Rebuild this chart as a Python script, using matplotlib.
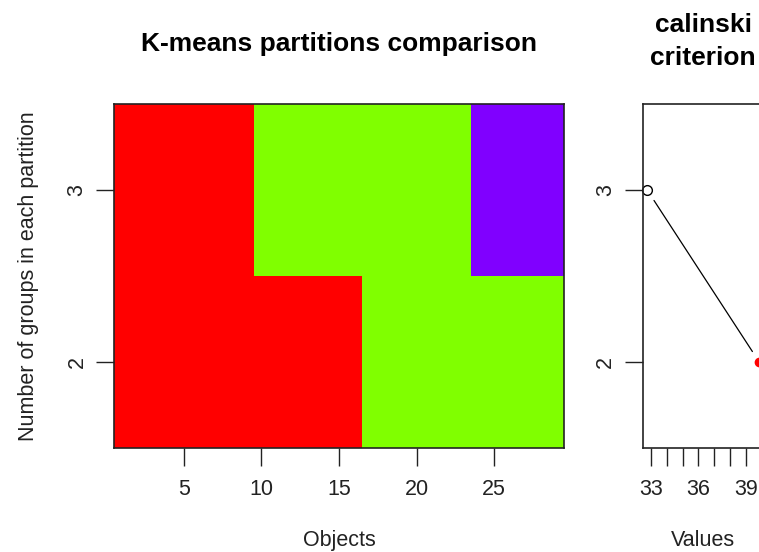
import matplotlib
matplotlib.use("Agg")
import matplotlib.pyplot as plt
from matplotlib.colors import ListedColormap
import numpy as np

plt.rcParams['font.family'] = ['Liberation Sans', 'DejaVu Sans']

# Data
objects = list(range(1, 30))
n_groups = [2, 3]
part_k2 = [1,1,1,1,1,1,1,1,1,1,1,1,1,1,1,1,2,2,2,2,2,2,2,2,2,2,2,2,2]
part_k3 = [1,1,1,1,1,1,1,1,1,2,2,2,2,2,2,2,2,2,2,2,2,2,2,3,3,3,3,3,3]
group_colors = ["#FF0000", "#80FF00", "#8000FF"]
calinski = [39.84, 32.77]   # for 2 and 3 groups
best_idx = 0
x_ticks_left = [5, 10, 15, 20, 25]
x_ticks_right = [33, 34, 35, 36, 37, 38, 39, 40]
x_ticklabels_right = ["33", "", "", "36", "", "", "39", ""]

W, H = 759, 552
fig = plt.figure(figsize=(W/100, H/100), dpi=100)

fs = 15.5
edge = "#222222"

# Left panel
ax1 = fig.add_axes([114/W, (H-448)/H, 450/W, 344/H])
mat = np.array([part_k2, part_k3])
xe = np.arange(0.5, len(objects) + 1, 1.0)
ye = np.array([1.5, 2.5, 3.5])
cmap = ListedColormap(group_colors)
ax1.pcolormesh(xe, ye, mat, cmap=cmap, vmin=0.5, vmax=3.5, shading='flat')
ax1.set_xlim(0.5, len(objects) + 0.5)
ax1.set_ylim(1.5, 3.5)
ax1.set_xticks(x_ticks_left)
ax1.set_yticks(n_groups)
ax1.set_yticklabels([str(g) for g in n_groups], rotation=90, va='center')
ax1.tick_params(axis='x', length=13, width=1, color=edge, labelsize=fs, pad=9, labelcolor="#222222")
ax1.tick_params(axis='y', length=13, width=1, color=edge, labelsize=fs, pad=6, labelcolor="#222222")
ax1.set_xlabel("Objects", fontsize=fs, labelpad=22, color="#222222")
ax1.set_ylabel("Number of groups in each partition", fontsize=fs, labelpad=20, color="#222222")
ax1.set_title("K-means partitions comparison", fontsize=19, fontweight='bold', pad=38)
for s in ax1.spines.values():
    s.set_linewidth(1.2)
    s.set_color(edge)

# Right panel
xmin = min(calinski); xmax = max(calinski); r = xmax - xmin
ax2 = fig.add_axes([642.7/W, (H-448)/H, 121/W, 344/H])
ax2.set_xlim(xmin - 0.04*r, xmax + 0.04*r)
ax2.set_ylim(1.5, 3.5)
ax2.annotate('', xy=(calinski[0], n_groups[0]), xytext=(calinski[1], n_groups[1]),
             arrowprops=dict(arrowstyle='-', shrinkA=9, shrinkB=9, lw=0.9, color='black'))
for i, (v, g) in enumerate(zip(calinski, n_groups)):
    if i == best_idx:
        ax2.plot(v, g, 'o', color='red', markersize=6, clip_on=False)
    else:
        ax2.plot(v, g, 'o', mfc='white', mec='black', mew=1, markersize=7, clip_on=False)
ax2.set_xticks(x_ticks_right)
ax2.set_xticklabels(x_ticklabels_right)
ax2.set_yticks(n_groups)
ax2.set_yticklabels([str(g) for g in n_groups], rotation=90, va='center')
ax2.tick_params(axis='x', length=13, width=1, color=edge, labelsize=fs, pad=9, labelcolor="#222222")
ax2.tick_params(axis='y', length=13, width=1, color=edge, labelsize=fs, pad=6, labelcolor="#222222")
ax2.set_xlabel("Values", fontsize=fs, labelpad=22, color="#222222")
ax2.set_title("calinski\ncriterion", fontsize=19, fontweight='bold', pad=28, linespacing=1.5)
for s in ax2.spines.values():
    s.set_linewidth(1.2)
    s.set_color(edge)

fig.savefig("out.png", dpi=100)
